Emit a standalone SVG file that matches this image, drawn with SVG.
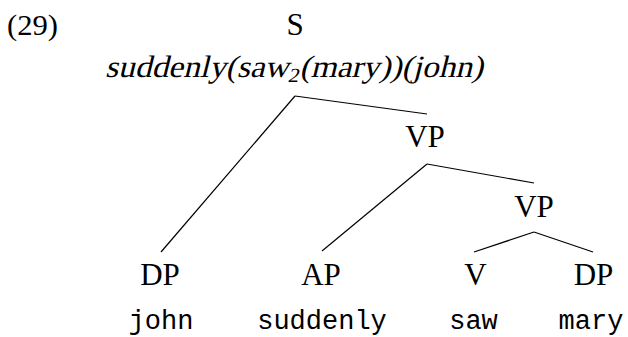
<svg xmlns="http://www.w3.org/2000/svg" width="628" height="337" viewBox="0 0 628 337">
<style>
.lbl{font-family:"Liberation Serif",serif;font-size:31px;fill:#000;text-anchor:middle}
.num{font-family:"Liberation Serif",serif;font-size:30px;fill:#000}
.f{font-family:"Liberation Serif",serif;font-size:31px;fill:#000}
.w{font-family:"Liberation Mono",monospace;font-size:27px;fill:#000;text-anchor:middle}
.e{stroke:#000;stroke-width:1.2;fill:none}
</style>
<rect width="628" height="337" fill="#fff"/>
<text class="num" x="7" y="35" textLength="51" lengthAdjust="spacingAndGlyphs">(29)</text>
<g id="node-S">
<text class="lbl" x="295" y="35">S</text>
<g transform="translate(105,77) skewX(-14)">
<text class="f" x="0" y="0" textLength="378" lengthAdjust="spacingAndGlyphs">suddenly(saw<tspan font-size="20" baseline-shift="-5">2</tspan>(mary))(john)</text>
</g>
</g>
<g id="node-VP1"><text class="lbl" x="425" y="147">VP</text></g>
<g id="node-VP2"><text class="lbl" x="534" y="217">VP</text></g>
<g id="node-DP1"><text class="lbl" x="160" y="285">DP</text><text class="w" x="161" y="329">john</text></g>
<g id="node-AP"><text class="lbl" x="321" y="285">AP</text><text class="w" x="322" y="329">suddenly</text></g>
<g id="node-V"><text class="lbl" x="475.5" y="285">V</text><text class="w" x="473.5" y="329">saw</text></g>
<g id="node-DP2"><text class="lbl" x="593.5" y="285">DP</text><text class="w" x="591" y="329">mary</text></g>
<g id="connectors">
<line class="e" x1="295" y1="96" x2="427" y2="114"/>
<line class="e" x1="295" y1="96" x2="161" y2="252"/>
<line class="e" x1="427" y1="164" x2="534" y2="183"/>
<line class="e" x1="427" y1="164" x2="322" y2="251"/>
<line class="e" x1="534" y1="232" x2="474" y2="252"/>
<line class="e" x1="534" y1="232" x2="593" y2="252"/>
</g>
</svg>
